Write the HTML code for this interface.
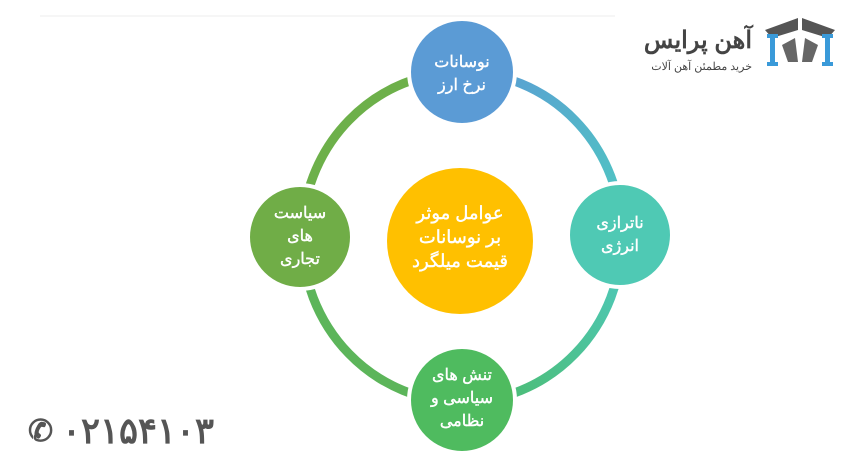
<!DOCTYPE html>
<html><head><meta charset="utf-8"><style>
body{margin:0;background:#fff;width:863px;height:461px;overflow:hidden;font-family:"Liberation Sans","Noto Sans CJK SC",sans-serif}
</style></head><body>
<svg width="863" height="461" viewBox="0 0 863 461" xmlns="http://www.w3.org/2000/svg">
<line x1="40" y1="16" x2="615" y2="16" stroke="#eee" stroke-width="1"/>
<defs>
<linearGradient id="g1" x1="0" y1="0" x2="1" y2="1"><stop offset="0" stop-color="#5b9bd5"/><stop offset="1" stop-color="#4ec9c0"/></linearGradient>
<linearGradient id="g2" x1="1" y1="0" x2="0" y2="1"><stop offset="0" stop-color="#4ec9c0"/><stop offset="1" stop-color="#4cbb6a"/></linearGradient>
</defs>
<path d="M462,72 A160,165 0 0 1 622,237" fill="none" stroke="url(#g1)" stroke-width="9"/>
<path d="M622,237 A160,165 0 0 1 462,402" fill="none" stroke="url(#g2)" stroke-width="9"/>
<path d="M462,402 A160,165 0 0 1 302,237" fill="none" stroke="#5cb55a" stroke-width="9"/>
<path d="M302,237 A160,165 0 0 1 462,72" fill="none" stroke="#6db04a" stroke-width="9"/>
<g stroke="#fff" stroke-width="4">
<circle cx="462" cy="72" r="53" fill="#5b9bd5"/>
<circle cx="620" cy="235" r="52" fill="#4fc9b4"/>
<circle cx="462" cy="400" r="53" fill="#4fbb5f"/>
<circle cx="300" cy="237" r="52" fill="#70ad47"/>
</g>
<circle cx="460" cy="241" r="73" fill="#ffc000"/>
<g fill="#fff" font-size="16" text-anchor="middle" stroke="#fff" stroke-width="0.4" font-family="'Liberation Sans','Noto Sans CJK SC',sans-serif">
<text x="462" y="67">نوسانات</text><text x="462" y="90">نرخ ارز</text>
<text x="620" y="228">ناترازی</text><text x="620" y="251">انرژی</text>
<text x="462" y="380">تنش های</text><text x="462" y="403">سیاسی و</text><text x="462" y="426">نظامی</text>
<text x="300" y="218">سیاست</text><text x="300" y="241">های</text><text x="300" y="264">تجاری</text>
<g font-size="18"><text x="460" y="219">عوامل موثر</text><text x="460" y="243">بر نوسانات</text><text x="460" y="267">قیمت میلگرد</text></g>
</g>
<text x="752" y="48" font-size="24" font-weight="bold" fill="#444" text-anchor="end">آهن پرایس</text>
<text x="752" y="70" font-size="11" fill="#444" text-anchor="end">خرید مطمئن آهن آلات</text>
<g>
<polygon points="765,30 798,18 798,30 772,38" fill="#555"/>
<polygon points="835,30 802,18 802,30 828,38" fill="#555"/>
<polygon points="782,45 795,38 798,62 788,62" fill="#666"/>
<polygon points="818,45 805,38 802,62 812,62" fill="#666"/>
<rect x="767" y="34" width="11" height="4" fill="#3a9ad9"/><rect x="770" y="34" width="5" height="30" fill="#3a9ad9"/><rect x="767" y="62" width="11" height="4" fill="#3a9ad9"/>
<rect x="822" y="34" width="11" height="4" fill="#3a9ad9"/><rect x="825" y="34" width="5" height="30" fill="#3a9ad9"/><rect x="822" y="62" width="11" height="4" fill="#3a9ad9"/>
</g>
<text x="28" y="441" font-size="30" font-weight="bold" fill="#555">✆</text>
<text x="62" y="443" font-size="36" font-weight="bold" fill="#555" textLength="152" lengthAdjust="spacingAndGlyphs">۰۲۱۵۴۱۰۳</text>
</svg>
</body></html>
